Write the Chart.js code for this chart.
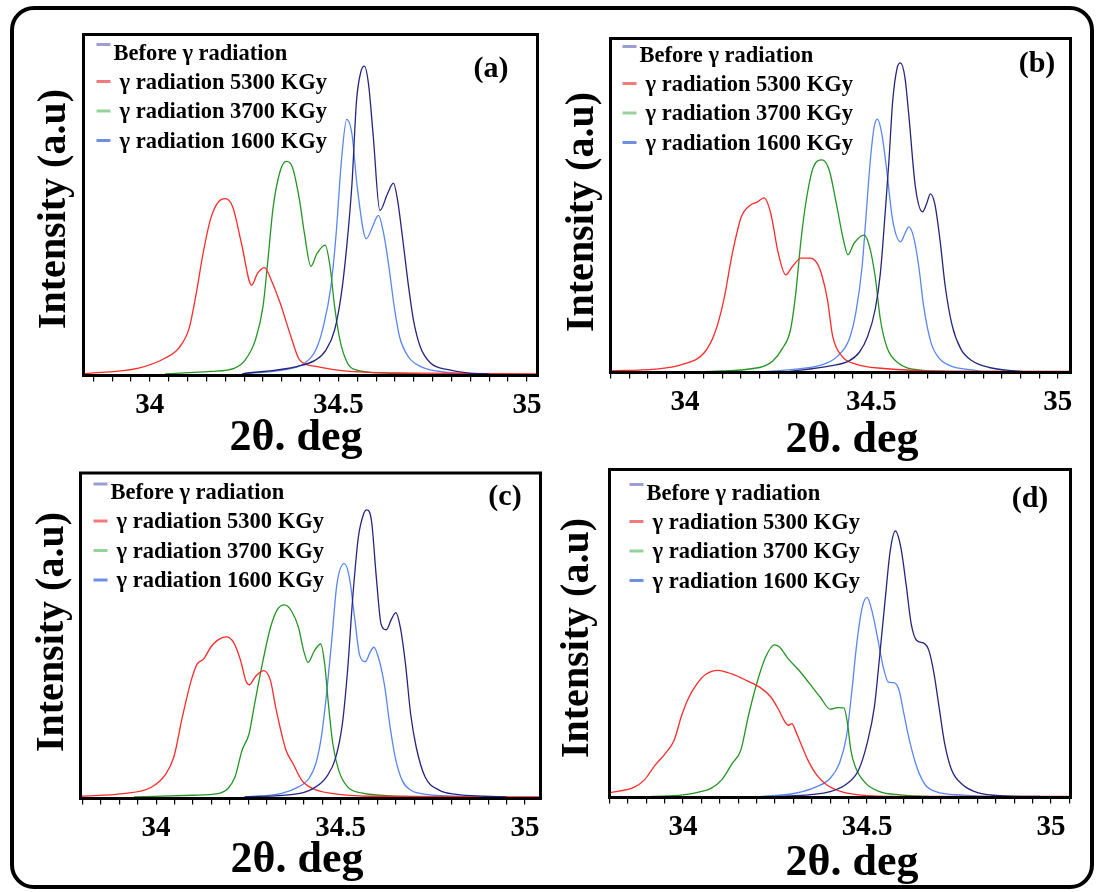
<!DOCTYPE html>
<html>
<head>
<meta charset="utf-8">
<script src="https://cdn.jsdelivr.net/npm/chart.js@4.4.0/dist/chart.umd.min.js"></script>
<style>
  html, body { margin: 0; padding: 0; background: #fff; }
  #page { position: relative; width: 1099px; height: 892px; overflow: hidden; background: #fff; }
  #frame { position: absolute; left: 10px; top: 6px; width: 1084px; height: 883px; box-sizing: border-box; border: 4px solid #000; border-radius: 24px; }
  canvas { position: absolute; left: 0; top: 0; }
</style>
</head>
<body>
<div id="page">
  <div id="frame"></div>
  <canvas id="pa" width="1099" height="892"></canvas>
  <canvas id="pb" width="1099" height="892"></canvas>
  <canvas id="pc" width="1099" height="892"></canvas>
  <canvas id="pd" width="1099" height="892"></canvas>
</div>
<script>
// series labels, same order in every panel
const seriesLabels = ["Before \u03b3 radiation", "\u03b3 radiation 5300 KGy", "\u03b3 radiation 3700 KGy", "\u03b3 radiation 1600 KGy"]
const panelTags = ["(a)", "(b)", "(c)", "(d)"]
const tickValues = [34, 34.5, 35]

// [2theta, intensity] pairs, intensity in a.u. (0..100 of plot height)
const aBefore = [[34.245,0],[34.392,2.2],[34.44,4.1],[34.467,7.0],[34.49,12.9],[34.508,23.7],[34.522,37.4],[34.536,56.0],[34.548,80.4],[34.56,89.2],[34.569,90.7],[34.58,85.3],[34.592,70.6],[34.61,48.1],[34.63,53.0],[34.646,56.2],[34.657,51.1],[34.671,39.3],[34.685,26.6],[34.699,15.9],[34.717,8.0],[34.745,3.1],[34.792,1.2],[34.848,0.2],[34.9,0]]
const a5300 = [[33.824,0],[33.97,1.7],[34.04,4.6],[34.076,7.5],[34.104,13.4],[34.123,23.7],[34.141,35.4],[34.16,45.2],[34.178,50.1],[34.2,51.6],[34.22,49.1],[34.243,38.4],[34.27,26.1],[34.285,29.5],[34.304,31.3],[34.322,27.6],[34.346,20.7],[34.374,11.0],[34.397,4.1],[34.44,2.2],[34.53,0.7],[34.7,0.2],[35.028,0]]
const a3700 = [[34.04,0],[34.16,0.7],[34.225,1.7],[34.253,4.1],[34.28,10.0],[34.3,19.8],[34.313,33.5],[34.327,49.1],[34.346,59.9],[34.362,62.6],[34.378,60.9],[34.397,51.1],[34.41,41.3],[34.427,31.7],[34.443,35.4],[34.465,37.9],[34.478,31.5],[34.49,19.8],[34.504,10.0],[34.522,3.6],[34.54,1.4],[34.625,0.2],[34.72,0]]
const a1600 = [[34.245,0],[34.346,1.0],[34.41,3.1],[34.44,7.0],[34.46,13.9],[34.48,25.6],[34.494,41.3],[34.508,62.8],[34.522,75.0],[34.536,70.6],[34.55,55.0],[34.574,39.8],[34.59,43.2],[34.606,46.7],[34.62,41.3],[34.634,31.5],[34.648,19.8],[34.662,11.0],[34.685,5.1],[34.717,2.2],[34.79,0.4],[34.85,0]]

const bBefore = [[34.27,0],[34.39,1.8],[34.44,3.3],[34.467,5.8],[34.49,10.7],[34.51,18.7],[34.524,29.6],[34.538,49.5],[34.547,63.4],[34.557,81.2],[34.569,91.2],[34.578,92.7],[34.59,88.2],[34.6,77.3],[34.618,55.4],[34.637,48.0],[34.648,50.4],[34.658,53.4],[34.67,50.4],[34.684,39.5],[34.698,25.6],[34.717,13.7],[34.74,6.8],[34.77,3.3],[34.816,1.3],[34.882,0.3],[34.92,0]]
const b5300 = [[33.8,0.3],[33.92,0.8],[33.995,2.3],[34.052,5.8],[34.08,11.7],[34.104,21.6],[34.127,35.6],[34.151,46.5],[34.175,50.0],[34.193,50.9],[34.212,52.2],[34.23,47.5],[34.25,35.6],[34.27,29.1],[34.288,31.6],[34.311,34.1],[34.335,34.1],[34.354,32.6],[34.368,28.6],[34.382,21.6],[34.396,10.7],[34.42,4.8],[34.458,2.3],[34.533,1.0],[34.7,0.2],[35.034,0.1]]
const b3700 = [[34.04,0],[34.2,1.3],[34.236,3.3],[34.26,6.8],[34.283,12.7],[34.297,23.6],[34.311,39.5],[34.325,51.4],[34.344,61.4],[34.368,63.6],[34.387,60.4],[34.406,50.4],[34.425,39.5],[34.437,35.1],[34.453,38.5],[34.48,41.0],[34.495,37.5],[34.51,28.6],[34.524,15.7],[34.542,7.2],[34.57,2.8],[34.627,0.6],[34.75,0]]
const b1600 = [[34.2,0],[34.297,0.8],[34.373,2.3],[34.41,4.8],[34.44,9.7],[34.458,17.7],[34.475,31.6],[34.486,47.5],[34.497,63.4],[34.507,73.3],[34.516,75.8],[34.528,71.3],[34.54,61.4],[34.557,45.5],[34.578,39.0],[34.59,41.5],[34.6,43.5],[34.613,40.5],[34.627,31.6],[34.64,19.7],[34.66,8.7],[34.684,3.8],[34.72,1.5],[34.77,0.6],[34.8,0]]

const cBefore = [[34.24,0],[34.386,1.0],[34.433,3.1],[34.462,6.2],[34.486,11.8],[34.505,22.6],[34.519,39.0],[34.533,61.5],[34.548,80.0],[34.562,87.2],[34.571,88.6],[34.584,85.1],[34.597,67.7],[34.61,53.3],[34.624,51.6],[34.638,54.9],[34.65,56.9],[34.662,52.3],[34.676,41.0],[34.69,25.6],[34.705,15.4],[34.729,6.2],[34.767,2.1],[34.814,0.8],[34.89,0.2],[34.95,0]]
const c5300 = [[33.795,0.2],[33.91,1.0],[33.986,2.9],[34.024,6.7],[34.048,12.3],[34.071,24.6],[34.095,35.9],[34.111,41.0],[34.129,42.6],[34.148,46.2],[34.167,48.4],[34.19,49.4],[34.21,47.7],[34.229,42.1],[34.243,35.9],[34.252,34.6],[34.271,37.4],[34.292,39.0],[34.31,35.9],[34.324,27.7],[34.338,20.5],[34.352,14.4],[34.371,10.3],[34.395,5.1],[34.424,2.6],[34.48,1.0],[34.576,0.2],[35.042,0]]
const c3700 = [[33.94,0],[34.1,0.5],[34.167,1.0],[34.195,2.6],[34.214,6.2],[34.233,14.4],[34.252,19.5],[34.267,28.7],[34.286,40.0],[34.31,52.3],[34.329,57.9],[34.348,59.3],[34.367,57.4],[34.386,52.3],[34.4,45.1],[34.412,41.5],[34.429,45.1],[34.446,47.2],[34.457,41.0],[34.467,28.7],[34.479,16.4],[34.495,8.2],[34.519,3.1],[34.557,1.2],[34.624,0.4],[34.7,0]]
const c1600 = [[34.24,0],[34.338,1.0],[34.386,3.1],[34.414,5.6],[34.433,10.3],[34.448,18.5],[34.462,31.8],[34.476,48.2],[34.49,65.6],[34.51,72.0],[34.524,67.7],[34.538,55.4],[34.552,43.6],[34.567,41.8],[34.58,44.6],[34.59,46.2],[34.605,42.1],[34.62,33.8],[34.633,22.6],[34.648,12.3],[34.667,5.1],[34.69,2.1],[34.738,0.7],[34.814,0.2],[34.85,0]]

const dBefore = [[34.26,0],[34.4,1.5],[34.448,4.1],[34.477,8.1],[34.5,16.2],[34.52,27.4],[34.534,42.6],[34.549,59.9],[34.563,75.1],[34.577,81.2],[34.592,76.1],[34.606,65.0],[34.62,52.8],[34.635,47.7],[34.654,46.9],[34.668,44.7],[34.682,37.6],[34.697,26.4],[34.711,16.2],[34.73,8.1],[34.76,3.6],[34.8,1.2],[34.878,0.2],[34.97,0]]
const d5300 = [[33.8,1.2],[33.866,2.8],[33.895,5.1],[33.924,9.6],[33.952,13.2],[33.976,17.3],[33.995,24.4],[34.014,29.9],[34.038,34.5],[34.062,37.4],[34.095,38.6],[34.134,37.4],[34.172,35.5],[34.21,33.3],[34.238,30.5],[34.258,26.9],[34.277,22.8],[34.286,21.8],[34.296,22.3],[34.305,20.3],[34.32,16.2],[34.339,11.2],[34.363,6.6],[34.39,3.6],[34.43,1.5],[34.477,0.5],[34.59,0],[35.053,0]]
const d3700 = [[33.914,0],[34.0,0.5],[34.048,1.5],[34.076,2.5],[34.105,5.1],[34.134,10.2],[34.157,14.2],[34.177,24.4],[34.2,34.5],[34.224,42.6],[34.248,46.4],[34.262,45.7],[34.286,42.1],[34.315,38.6],[34.344,34.5],[34.372,30.5],[34.4,26.7],[34.42,27.2],[34.437,27.1],[34.447,22.3],[34.456,14.2],[34.468,9.1],[34.496,4.1],[34.534,1.5],[34.59,0.5],[34.668,0]]
const d1600 = [[34.21,0],[34.305,1.0],[34.363,3.0],[34.4,5.6],[34.425,10.2],[34.444,18.3],[34.458,31.5],[34.472,46.7],[34.487,57.9],[34.5,60.9],[34.513,56.9],[34.53,47.7],[34.544,39.6],[34.558,35.0],[34.573,34.8],[34.587,32.5],[34.6,25.4],[34.615,17.3],[34.635,9.1],[34.658,3.6],[34.687,1.5],[34.763,0.4],[34.83,0]]

const lineColors = ["#25257e", "#ff2a2a", "#249524", "#5886f2"]
const legendColors = ["#9d9dd2", "#f27a7a", "#96d396", "#6f8fe2"]

const SERIF = '"Liberation Serif", "Times New Roman", serif'
const PAGE_W = 1099, PAGE_H = 892

// page placement of each panel (plot box edges, title spots)
const panels = [
  { id: "pa", box: [83.5, 34.5, 537.5, 375.5], xr: [33.824, 35.028], ymin: -0.5,
    series: [aBefore, a5300, a3700, a1600], tag: [491, 77], yTitle: [55, 209], xTitle: [296, 450], legendShift: [0, 0] },
  { id: "pb", box: [610.5, 38.5, 1070.5, 372.5], xr: [33.8, 35.034], ymin: -0.2,
    series: [bBefore, b5300, b3700, b1600], tag: [1037, 72], yTitle: [583, 212], xTitle: [852, 452], legendShift: [-1, -2] },
  { id: "pc", box: [80.5, 473, 540.5, 798.5], xr: [33.795, 35.042], ymin: -0.5,
    series: [cBefore, c5300, c3700, c1600], tag: [505, 505], yTitle: [53, 632], xTitle: [297, 872], legendShift: [0, 1] },
  { id: "pd", box: [609.5, 469.5, 1070.5, 797.5], xr: [33.8, 35.053], ymin: -0.3,
    series: [dBefore, d5300, d3700, d1600], tag: [1030, 507], yTitle: [578, 638], xTitle: [852, 875], legendShift: [7, 5] }
]

const panelDecor = {
  id: "panelDecor",
  afterDatasetsDraw(chart, args, o) {
    const ctx = chart.ctx
    const a = chart.chartArea
    ctx.save()

    // black box round the plot
    ctx.strokeStyle = "#000"
    ctx.lineWidth = 3
    ctx.strokeRect(a.left, a.top, a.right - a.left, a.bottom - a.top)

    // legend in the top-left corner
    const lx = a.left + o.legendShift[0]
    const ly = a.top + o.legendShift[1]
    ctx.font = "bold 22.5px " + SERIF
    ctx.textAlign = "left"
    ctx.textBaseline = "alphabetic"
    chart.data.datasets.forEach((ds, i) => {
      const base = ly + (i === 0 ? 25 : 54 + (i - 1) * 29.5)
      const sy = i === 0 ? ly + 10 : base - 7
      ctx.strokeStyle = ds.legendColor
      ctx.lineWidth = 3
      ctx.beginPath()
      ctx.moveTo(lx + 13, sy)
      ctx.lineTo(lx + 27, sy)
      ctx.stroke()
      ctx.fillStyle = "#000"
      ctx.fillText(ds.label, lx + (i === 0 ? 30 : 36), base)
    })

    // panel letter
    ctx.font = "bold 30px " + SERIF
    ctx.textAlign = "center"
    ctx.fillText(o.tag, o.tagPos[0], o.tagPos[1])

    // axis titles
    ctx.font = "bold 44px " + SERIF
    ctx.fillText("2\u03b8. deg", o.xTitle[0], o.xTitle[1])

    ctx.translate(o.yTitle[0], o.yTitle[1])
    ctx.rotate(-Math.PI / 2)
    ctx.font = "bold 40px " + SERIF
    ctx.textBaseline = "middle"
    ctx.fillText("Intensity (a.u)", 0, 0)
    ctx.restore()
  }
}

const onStep = v => Math.abs(v / 0.05 - Math.round(v / 0.05)) < 1e-6

panels.forEach((p, k) => {
  const [bl, bt, br, bb] = p.box
  const datasets = p.series.map((s, i) => ({
    label: seriesLabels[i],
    data: s.map(([x, y]) => ({ x, y })),
    borderColor: lineColors[i],
    legendColor: legendColors[i],
    borderWidth: 1.3,
    pointRadius: 0,
    fill: false,
    cubicInterpolationMode: "monotone"
  }))

  new Chart(document.getElementById(p.id), {
    type: "line",
    data: { datasets },
    plugins: [panelDecor],
    options: {
      responsive: false,
      animation: false,
      devicePixelRatio: 1,
      layout: { padding: { left: bl, top: bt, right: PAGE_W - br, bottom: 0 } },
      plugins: {
        legend: { display: false },
        tooltip: { enabled: false },
        panelDecor: {
          legendShift: p.legendShift,
          tag: panelTags[k],
          tagPos: p.tag,
          xTitle: p.xTitle,
          yTitle: p.yTitle
        }
      },
      scales: {
        x: {
          type: "linear",
          min: p.xr[0],
          max: p.xr[1],
          afterFit: scale => { scale.height = PAGE_H - bb },
          afterBuildTicks: scale => { scale.ticks = scale.ticks.filter(t => onStep(t.value)) },
          border: { display: false },
          grid: { drawOnChartArea: false, drawTicks: true, tickLength: 6, color: "#000", lineWidth: 1.2 },
          ticks: {
            stepSize: 0.05,
            maxTicksLimit: 100,
            includeBounds: false,
            autoSkip: false,
            maxRotation: 0,
            padding: 7,
            color: "#000",
            font: { family: SERIF, weight: "bold", size: 29 },
            callback: v => tickValues.some(t => Math.abs(t - v) < 1e-6) ? String(Math.round(v * 10) / 10) : ""
          }
        },
        y: { display: false, min: p.ymin, max: 100 }
      }
    }
  })
})
</script>
</body>
</html>
